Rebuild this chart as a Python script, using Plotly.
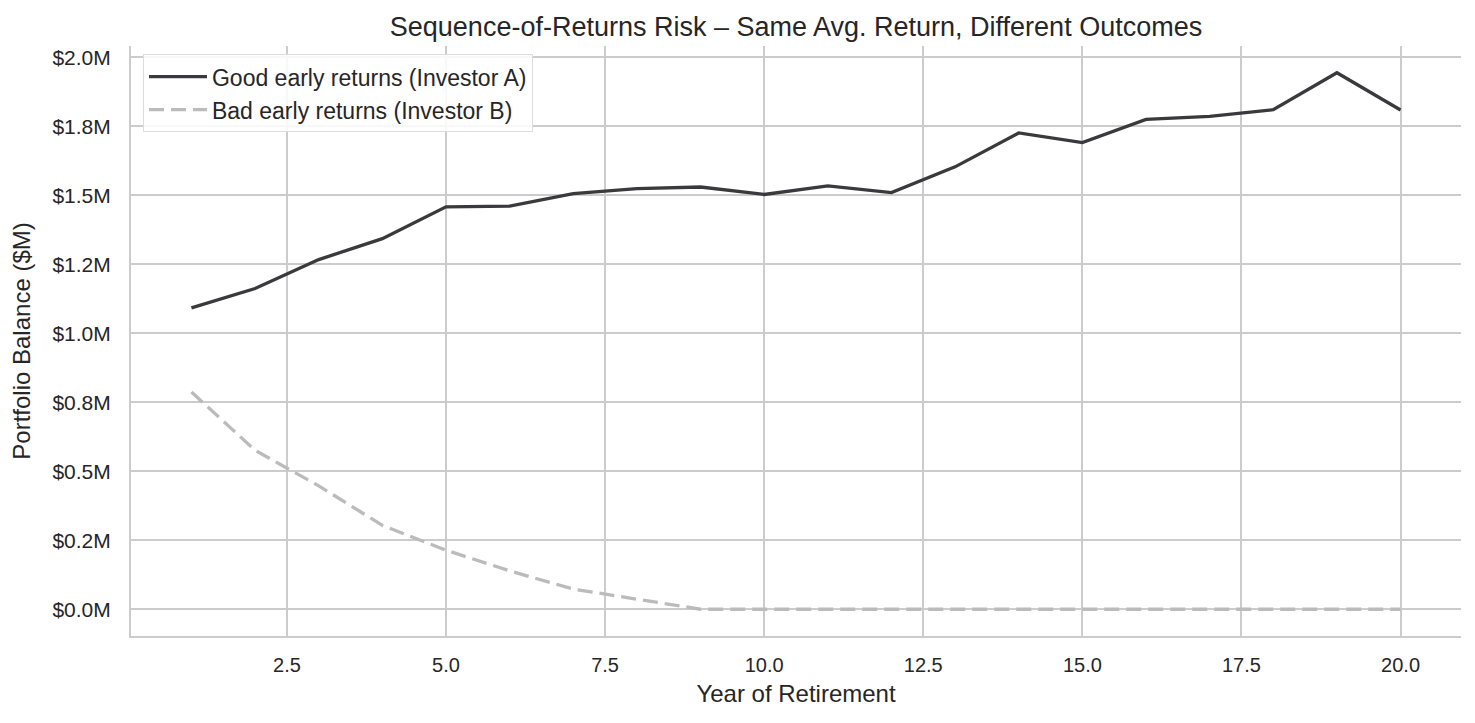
import plotly.graph_objects as go

# Year of retirement
years = list(range(1, 21))

# Portfolio balance in $M
investor_a = [1.092, 1.162, 1.267, 1.343, 1.458, 1.461, 1.506, 1.524, 1.530, 1.503,
              1.534, 1.510, 1.603, 1.726, 1.691, 1.775, 1.786, 1.810, 1.944, 1.809]
investor_b = [0.787, 0.576, 0.447, 0.304, 0.214, 0.139, 0.073, 0.035, 0.0, 0.0,
              0.0, 0.0, 0.0, 0.0, 0.0, 0.0, 0.0, 0.0, 0.0, 0.0]

y_ticks = [0.0, 0.25, 0.5, 0.75, 1.0, 1.25, 1.5, 1.75, 2.0]
y_labels = ['$0.0M', '$0.2M', '$0.5M', '$0.8M', '$1.0M', '$1.2M', '$1.5M', '$1.8M', '$2.0M']

FONT = 'Liberation Sans, Arial, sans-serif'
GRID = '#cccccc'
TXT = '#262626'

fig = go.Figure()

fig.add_trace(go.Scatter(
    x=years, y=investor_a,
    mode='lines',
    name='Good early returns (Investor A)',
    line=dict(color='#3a3a3c', width=3.3),
))

fig.add_trace(go.Scatter(
    x=years, y=investor_b,
    mode='lines',
    name='Bad early returns (Investor B)',
    line=dict(color='#bbbbbb', width=3.3, dash='15px,7px'),
))

# zero reference line
fig.add_hline(y=0, line=dict(color='#333333', width=1, dash='dot'), layer='below')

# page body has an 8px margin, so the margins below are shifted by that
fig.update_layout(
    width=1475, height=723,
    margin=dict(l=123, r=22, t=38, b=95),
    paper_bgcolor='white',
    plot_bgcolor='white',
    font=dict(family=FONT, size=20, color=TXT),
    title=dict(
        text='Sequence-of-Returns Risk – Same Avg. Return, Different Outcomes',
        x=0.5, xref='paper', xanchor='center',
        y=1 - 19 / 723, yref='container', yanchor='middle',
        font=dict(size=27, color=TXT),
    ),
    showlegend=True,
    legend=dict(
        x=0.009, y=0.986, xanchor='left', yanchor='top',
        bgcolor='rgba(255,255,255,0.85)',
        bordercolor='#dddddd', borderwidth=1,
        font=dict(size=23, color=TXT),
        itemwidth=58,
        tracegroupgap=0,
    ),
    xaxis=dict(
        title=dict(text='Year of Retirement', font=dict(size=24), standoff=10),
        range=[0.05, 20.95],
        tick0=0, dtick=2.5, tickformat='.1f',
        showgrid=True, gridcolor=GRID, gridwidth=1.5,
        zeroline=False,
        showline=True, linecolor=GRID, linewidth=2,
        ticks='', ticklabelstandoff=10,
    ),
    yaxis=dict(
        title=dict(text='Portfolio Balance ($M)', font=dict(size=24), standoff=16),
        range=[-0.097, 2.041],
        tickvals=y_ticks, ticktext=y_labels,
        tickfont=dict(size=21),
        showgrid=True, gridcolor=GRID, gridwidth=1.5,
        zeroline=False,
        showline=True, linecolor=GRID, linewidth=2,
        ticks='', ticklabelstandoff=14,
    ),
)

fig.write_html('out.html')
